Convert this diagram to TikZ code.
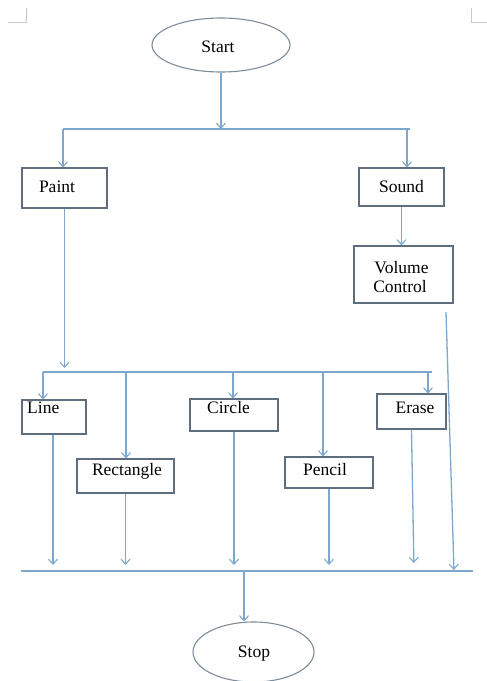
\documentclass[tikz,border=0pt]{standalone}
\usepackage{fontspec}
\setmainfont{Liberation Serif}
\usetikzlibrary{arrows.meta,shapes.geometric,calc}
\definecolor{connc}{HTML}{7DA7CC}
\definecolor{boxc}{HTML}{5E6E7E}
\definecolor{ellc}{HTML}{7E8C9A}
\definecolor{markc}{HTML}{C8C8C8}
\begin{document}
\begin{tikzpicture}[x=1pt,y=-1pt,
  conn/.style={draw=connc, line width=1.3pt},
  arr/.style={conn, -{Straight Barb[length=5pt,width=9pt,line width=1.1pt]}},
  box/.style={draw=boxc, line width=1.1pt, rectangle, inner sep=0pt},
  oval/.style={draw=ellc, line width=1.1pt, ellipse, inner sep=0pt},
  txt/.style={font=\fontsize{17.5}{19}\selectfont, inner sep=0pt, anchor=base},
]
\useasboundingbox (0,0) rectangle (487,681);

% corner marks
\draw[markc, line width=0.8pt] (8,22) -- (26,22) -- (26,8);
\draw[markc, line width=0.8pt] (471,8) -- (471,22) -- (487,22);

% shapes
\node[oval, minimum width=138pt, minimum height=54pt] (start) at (221,45) {};
\node[box, minimum width=85pt, minimum height=40pt] (paint) at (64.5,188) {};
\node[box, minimum width=85pt, minimum height=38pt] (sound) at (401.5,187) {};
\node[box, minimum width=99pt, minimum height=57pt] (volume) at (403.5,274.5) {};
\node[box, minimum width=64pt, minimum height=34pt] (line) at (54,417) {};
\node[box, minimum width=97pt, minimum height=34pt] (rect) at (125.5,476) {};
\node[box, minimum width=88pt, minimum height=32pt] (circle) at (234,415) {};
\node[box, minimum width=88pt, minimum height=31pt] (pencil) at (329,472.5) {};
\node[box, minimum width=69pt, minimum height=35pt] (erase) at (411.5,411.5) {};
\node[oval, minimum width=121pt, minimum height=60pt] (stop) at (253.5,652) {};

% texts
\node[txt] (tStart) at (218,52) {Start};
\node[txt] (tPaint) at (57,192) {Paint};
\node[txt] (tSound) at (401.5,192) {Sound};
\node[txt] (tVol1) at (401.5,273) {Volume};
\node[txt] (tVol2) at (400,292) {Control};
\node[txt, anchor=base west] (tLine) at (27,413) {Line};
\node[txt] (tCircle) at (228.5,413) {Circle};
\node[txt] (tErase) at (415,413) {Erase};
\node[txt] (tRect) at (127,475) {Rectangle};
\node[txt] (tPencil) at (325,475) {Pencil};
\node[txt] (tStop) at (254,657) {Stop};

% top bar
\coordinate (tbL) at (63,129);
\coordinate (tbR) at (410,129);
\coordinate (tbS) at (407,129);
\draw[conn] (tbL) -- (tbR);
\draw[arr] (start.south) -- (start.south |- tbL);
\draw[arr] (tbL) -- (tbL |- paint.north);
\draw[arr] (tbS) -- (tbS |- sound.north);
\draw[arr] (sound.south) -- (sound.south |- volume.north);

% middle bar
\coordinate (mbL) at (43,372);
\coordinate (mbR) at (432,372);
\coordinate (mb2) at (126,372);
\coordinate (mb3) at (233,372);
\coordinate (mb4) at (323,372);
\coordinate (mb5) at (428,372);
\draw[conn] (mbL) -- (mbR);
\draw[arr, shorten >=4pt] (paint.south) -- (paint.south |- mbL);
\draw[arr] (mbL) -- (mbL |- line.north);
\draw[arr] (mb2) -- (mb2 |- rect.north);
\draw[arr] (mb3) -- (mb3 |- circle.north);
\draw[arr] (mb4) -- (mb4 |- pencil.north);
\draw[arr] (mb5) -- (mb5 |- erase.north);

% bottom bar
\coordinate (bbL) at (21,571);
\coordinate (bbR) at (473,571);
\coordinate (bbS) at (244,571);
\draw[conn] (bbL) -- (bbR);
\draw[arr, shorten >=6pt] ([xshift=-1pt]line.south) -- ([xshift=-1pt]line.south |- bbL);
\draw[arr, shorten >=6pt] (rect.south) -- (rect.south |- bbL);
\draw[arr, shorten >=6pt] (circle.south) -- (circle.south |- bbL);
\draw[arr, shorten >=6pt] (pencil.south) -- (pencil.south |- bbL);
\draw[arr, shorten >=8pt] (erase.south) -- ($(erase.south |- bbL)+(2.5,0)$);
\coordinate (vs) at (446,312);
\coordinate (ve) at (454,571);
\draw[arr, shorten >=1pt] (vs) -- (ve);
\draw[arr] (bbS) -- (bbS |- stop.north);
\end{tikzpicture}
\end{document}
